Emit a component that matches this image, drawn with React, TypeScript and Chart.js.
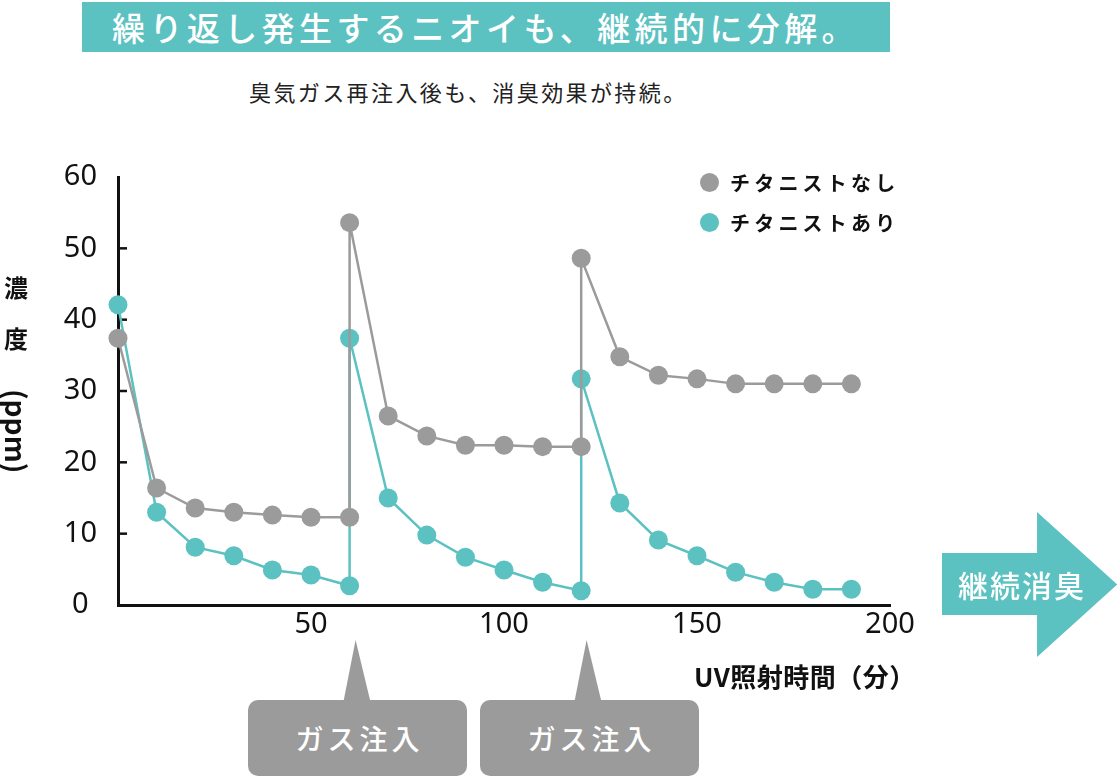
import React, { useEffect, useRef } from "react";
import { Chart, registerables } from "chart.js";

Chart.register(...registerables);

// UV irradiation time (minutes); gas re-injected at 60 and 120 (two points at same time)
const timeMin = [0, 10, 20, 30, 40, 50, 60, 60, 70, 80, 90, 100, 110, 120, 120, 130, 140, 150, 160, 170, 180, 190];
// concentration (ppm) without Titanist
const withoutTitanist = [37.4, 16.4, 13.6, 13.0, 12.6, 12.3, 12.3, 53.6, 26.5, 23.7, 22.4, 22.4, 22.2, 22.2, 48.6, 34.8, 32.2, 31.7, 31.0, 31.0, 31.0, 31.0];
// concentration (ppm) with Titanist
const withTitanist = [42.1, 13.0, 8.1, 6.9, 4.9, 4.2, 2.7, 37.4, 15.0, 9.8, 6.7, 4.9, 3.2, 2.0, 31.7, 14.3, 9.1, 6.9, 4.6, 3.2, 2.2, 2.2];
const seriesLabels = ["チタニストなし", "チタニストあり"];
const xTickValues = [50, 100, 150, 200];
const yTickValues = [0, 10, 20, 30, 40, 50, 60];
const injectionLabels = ["ガス注入", "ガス注入"];

const GRAY = "#9b9b9b";
const TEAL = "#5cc1c1";
const JP = '"Noto Sans CJK JP", "Noto Sans", sans-serif';
const NUM = '"Noto Sans", "DejaVu Sans", sans-serif';

const innerTicks = {
  id: "innerTicks",
  beforeDatasetsDraw(chart: any) {
    const y = chart.scales.y;
    const ctx = chart.ctx;
    const left = chart.chartArea.left;
    ctx.save();
    ctx.strokeStyle = "#111";
    ctx.lineWidth = 2.5;
    y.ticks.forEach((t: any) => {
      if (t.value === 0 || t.value === 60) return;
      const py = y.getPixelForValue(t.value);
      ctx.beginPath();
      ctx.moveTo(left, py);
      ctx.lineTo(left + 9, py);
      ctx.stroke();
    });
    ctx.restore();
  },
};

function ChartCanvas() {
  const ref = useRef<HTMLCanvasElement | null>(null);
  useEffect(() => {
    if (!ref.current) return;
    const mk = (vals: number[]) => timeMin.map((t, i) => ({ x: t, y: vals[i] }));
    const chart = new Chart(ref.current, {
      type: "line",
      data: {
        datasets: [
          {
            label: seriesLabels[0],
            data: mk(withoutTitanist),
            borderColor: GRAY,
            backgroundColor: GRAY,
            pointBackgroundColor: GRAY,
            pointBorderWidth: 0,
            pointRadius: 9.5,
            borderWidth: 2.5,
            tension: 0,
            clip: false,
          },
          {
            label: seriesLabels[1],
            data: mk(withTitanist),
            borderColor: TEAL,
            backgroundColor: TEAL,
            pointBackgroundColor: TEAL,
            pointBorderWidth: 0,
            pointRadius: 9.5,
            borderWidth: 2.5,
            tension: 0,
            clip: false,
          },
        ],
      },
      options: {
        responsive: false,
        animation: false,
        events: [],
        layout: { padding: { top: 177, right: 229, left: 0, bottom: 0 } },
        plugins: { legend: { display: false }, tooltip: { enabled: false } },
        scales: {
          x: {
            type: "linear",
            min: 0,
            max: 200,
            afterFit: (s: any) => { s.height = 173; },
            afterBuildTicks: (s: any) => { s.ticks = xTickValues.map((v) => ({ value: v })); },
            grid: { display: false, drawTicks: false },
            border: { display: true, color: "#111", width: 3 },
            ticks: {
              color: "#111",
              font: { family: NUM, size: 29 },
              padding: 2,
              maxRotation: 0,
              autoSkip: false,
            },
          },
          y: {
            type: "linear",
            min: 0,
            max: 60,
            afterFit: (s: any) => { s.width = 118; },
            afterBuildTicks: (s: any) => { s.ticks = yTickValues.map((v) => ({ value: v })); },
            grid: { display: false, drawTicks: false },
            border: { display: true, color: "#111", width: 3 },
            ticks: {
              color: "#111",
              font: { family: NUM, size: 29 },
              padding: 21,
              crossAlign: "center",
            },
          },
        },
      },
      plugins: [innerTicks],
    } as any);
    return () => chart.destroy();
  }, []);
  return <canvas ref={ref} width={1119} height={778} style={{ position: "absolute", left: 0, top: 0 }} />;
}

function Callout({ left, apexX, text }: { left: number; apexX: number; text: string }) {
  return (
    <>
      <div
        style={{
          position: "absolute",
          left: apexX - 14,
          top: 640,
          width: 28,
          height: 64,
          background: GRAY,
          clipPath: "polygon(45% 0, 100% 100%, 0 100%)",
        }}
      />
      <div
        style={{
          position: "absolute",
          left,
          top: 700,
          width: 219,
          height: 76,
          background: GRAY,
          borderRadius: 10,
          color: "#fff",
          font: `500 28px ${JP}`,
          letterSpacing: 4,
          paddingLeft: 4,
          boxSizing: "border-box",
          display: "flex",
          alignItems: "center",
          justifyContent: "center",
        }}
      >
        {text}
      </div>
    </>
  );
}

export default function App() {
  return (
    <div style={{ position: "absolute", left: 0, top: 0, width: 1119, height: 778, background: "#fff", overflow: "hidden" }}>
      {/* banner */}
      <div
        style={{
          position: "absolute",
          left: 82,
          top: 2,
          width: 808,
          height: 50,
          background: TEAL,
          color: "#fff",
          font: `500 33px ${JP}`,
          letterSpacing: 4.4,
          lineHeight: "50px",
          paddingLeft: 30,
          boxSizing: "border-box",
          whiteSpace: "nowrap",
        }}
      >
        繰り返し発生するニオイも、継続的に分解。
      </div>
      {/* subtitle */}
      <div
        style={{
          position: "absolute",
          left: 249,
          top: 75,
          font: `400 22px ${JP}`,
          letterSpacing: 2.4,
          color: "#222",
          lineHeight: "32px",
          whiteSpace: "nowrap",
        }}
      >
        臭気ガス再注入後も、消臭効果が持続。
      </div>

      <ChartCanvas />

      {/* y-axis title */}
      <div style={{ position: "absolute", left: 4, top: 272, font: `700 24px ${JP}`, color: "#111", lineHeight: "30px" }}>濃</div>
      <div style={{ position: "absolute", left: 4, top: 323, font: `700 24px ${JP}`, color: "#111", lineHeight: "30px" }}>度</div>
      <div
        style={{
          position: "absolute",
          left: 0,
          top: 389,
          writingMode: "vertical-rl",
          font: `700 28px ${JP}`,
          color: "#111",
          lineHeight: "34px",
          whiteSpace: "nowrap",
        }}
      >
        (ppm)
      </div>

      {/* legend */}
      {seriesLabels.map((lab, i) => (
        <div key={lab} style={{ position: "absolute", left: 700, top: 168 + i * 40, height: 28, display: "flex", alignItems: "center" }}>
          <div style={{ width: 19, height: 19, borderRadius: "50%", background: i === 0 ? GRAY : TEAL, marginRight: 11 }} />
          <div style={{ font: `700 20px ${JP}`, letterSpacing: 4.2, color: "#111", whiteSpace: "nowrap" }}>{lab}</div>
        </div>
      ))}

      {/* x-axis title */}
      <div
        style={{
          position: "absolute",
          left: 694,
          top: 658,
          font: `700 26px ${JP}`,
          color: "#111",
          lineHeight: "36px",
          letterSpacing: 0.5,
          whiteSpace: "nowrap",
        }}
      >
        UV照射時間（分）
      </div>

      {/* arrow */}
      <div
        style={{
          position: "absolute",
          left: 942,
          top: 512,
          width: 177,
          height: 145,
          background: TEAL,
          clipPath: "polygon(0 28.3%, 53.7% 28.3%, 53.7% 0, 99% 50%, 53.7% 100%, 53.7% 71%, 0 71%)",
        }}
      />
      <div
        style={{
          position: "absolute",
          left: 942,
          top: 564,
          width: 160,
          textAlign: "center",
          font: `500 30px ${JP}`,
          color: "#fff",
          lineHeight: "40px",
          letterSpacing: 2,
          whiteSpace: "nowrap",
        }}
      >
        継続消臭
      </div>

      {/* injection callouts */}
      <Callout left={248} apexX={357} text={injectionLabels[0]} />
      <Callout left={480} apexX={588} text={injectionLabels[1]} />
    </div>
  );
}
